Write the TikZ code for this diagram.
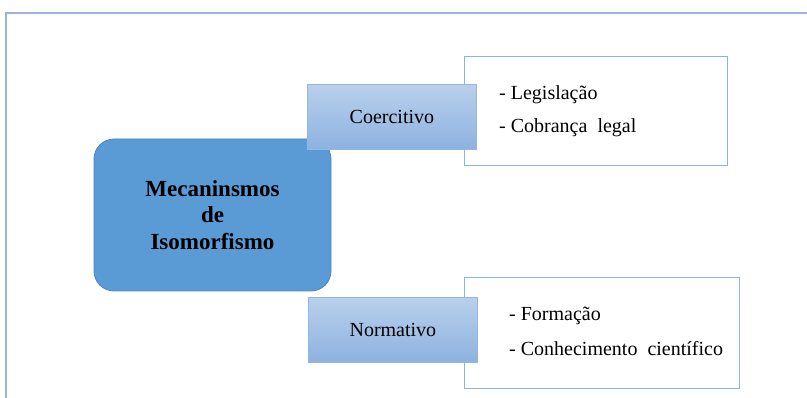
\documentclass[tikz,border=0pt]{standalone}
\usepackage{fontspec}
\setmainfont{Liberation Serif}
\definecolor{frameblue}{HTML}{98B4D6}
\definecolor{mainblue}{HTML}{5B9BD5}
\definecolor{mainedge}{HTML}{4A86C5}
\definecolor{cattop}{HTML}{B9D0EC}
\definecolor{catbot}{HTML}{8DB2E0}
\definecolor{catedge}{HTML}{95B6DF}
\definecolor{listedge}{HTML}{8EB4E3}
\begin{document}
\begin{tikzpicture}[x=1pt,y=-1pt,
  frame/.style={draw=frameblue, line width=1.5pt},
  mainbox/.style={draw=mainedge, fill=mainblue, rounded corners=20pt, line width=0.8pt,
    inner sep=0, align=center, font=\fontsize{23}{26.5}\selectfont\bfseries},
  catbox/.style={draw=catedge, top color=cattop, bottom color=catbot, line width=0.8pt,
    inner sep=0, minimum width=169pt, minimum height=65pt, anchor=north west,
    font=\fontsize{20}{24}\selectfont},
  listbox/.style={draw=listedge, fill=white, line width=1pt, inner sep=0, anchor=north west},
  item/.style={anchor=base west, inner sep=0, font=\fontsize{20}{24}\selectfont}
]
\clip (0,0) rectangle (807,398);
\fill[white] (0,0) rectangle (807,398);
\draw[frame] (6,13) rectangle (840,430);

\node[mainbox, minimum width=237pt, minimum height=152pt] (mech) at (212.5,215)
  {Mecaninsmos\\de\\Isomorfismo};

\node[listbox, minimum width=263pt, minimum height=109pt] (list1) at (464,56) {};
\node[listbox, minimum width=275pt, minimum height=111pt] (list2) at (464,277) {};

\node[catbox] (coer) at (307,84) {Coercitivo};
\node[catbox] (norm) at (308,297) {Normativo};

\node[item] (leg) at (499,99.5) {- Legislação};
\node[item] (cob) at (499,133) {- Cobrança\hspace{0.5em}legal};
\node[item] (form) at (509,321) {- Formação};
\node[item] (conh) at (509,356) {- Conhecimento\hspace{0.5em}científico};
\end{tikzpicture}
\end{document}
